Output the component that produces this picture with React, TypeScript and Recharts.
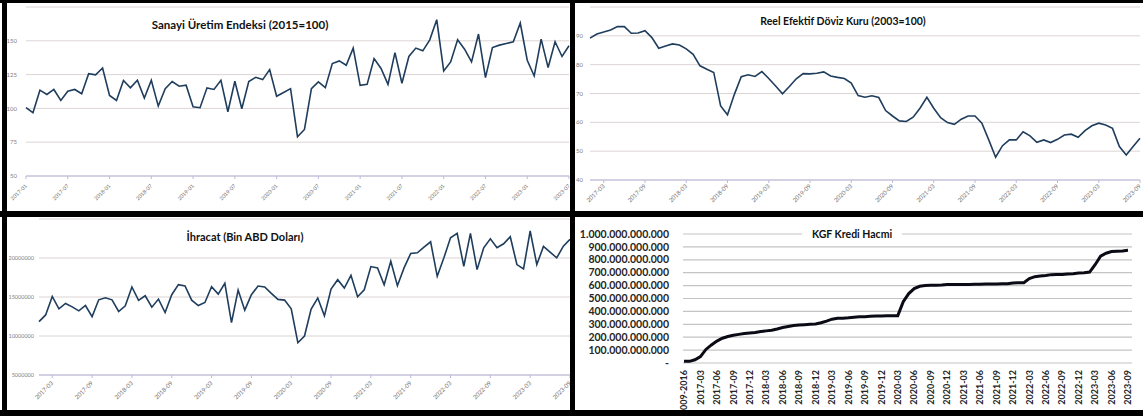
import React from "react"
import { LineChart, Line, XAxis, YAxis, CartesianGrid } from "recharts"

// aylar (2017-01 .. 2023-09)
const months = [
  "2017-01", "2017-02", "2017-03", "2017-04", "2017-05", "2017-06", "2017-07", "2017-08", "2017-09", "2017-10", "2017-11", "2017-12",
  "2018-01", "2018-02", "2018-03", "2018-04", "2018-05", "2018-06", "2018-07", "2018-08", "2018-09", "2018-10", "2018-11", "2018-12",
  "2019-01", "2019-02", "2019-03", "2019-04", "2019-05", "2019-06", "2019-07", "2019-08", "2019-09", "2019-10", "2019-11", "2019-12",
  "2020-01", "2020-02", "2020-03", "2020-04", "2020-05", "2020-06", "2020-07", "2020-08", "2020-09", "2020-10", "2020-11", "2020-12",
  "2021-01", "2021-02", "2021-03", "2021-04", "2021-05", "2021-06", "2021-07", "2021-08", "2021-09", "2021-10", "2021-11", "2021-12",
  "2022-01", "2022-02", "2022-03", "2022-04", "2022-05", "2022-06", "2022-07", "2022-08", "2022-09", "2022-10", "2022-11", "2022-12",
  "2023-01", "2023-02", "2023-03", "2023-04", "2023-05", "2023-06", "2023-07", "2023-08", "2023-09",
]

// Sanayi Üretim Endeksi (2015=100), 2017-01 .. 2023-07
const sanayiUretim = [
  100.5, 96.8, 113.5, 110.3, 114, 105.9, 112.7, 114, 110.8, 125.7,
  124.8, 129.9, 109.6, 105.9, 120.6, 115.2, 120.8, 107.6, 120.8, 101.7,
  114.5, 119.9, 116.4, 117.2, 101.2, 100.5, 115.2, 114, 120.8, 97.5,
  120.1, 99.7, 119.9, 123, 121.3, 128.7, 109, 111.8, 114.6, 79,
  84.4, 114.6, 119.6, 115.3, 133.2, 135.1, 131.9, 144.6, 117.1, 117.8,
  136.9, 129.5, 117.8, 141.3, 118.6, 138.4, 144.6, 142.6, 150.7, 165.6,
  127.7, 134.4, 150.7, 143.8, 134.4, 155, 122.8, 145, 146.8, 148,
  149.3, 163.1, 135.6, 124, 151.2, 130.2, 149.3, 138.4, 146.3,
]

// Reel Efektif Döviz Kuru (2003=100), 2017-01 .. 2023-09
const reelKur = [
  89.2, 90.6, 91.3, 92, 93.2, 93.2, 90.9, 91, 91.8, 89.4,
  85.7, 86.5, 87.2, 86.8, 85.5, 83.6, 79.6, 78.4, 77.3, 65.7,
  62.6, 69.7, 75.8, 76.5, 75.9, 77.6, 75.2, 72.6, 69.9, 72.4,
  75.1, 76.9, 76.8, 77, 77.5, 76.1, 75.6, 75.2, 73.6, 69.3,
  68.7, 69.2, 68.6, 64.1, 62.2, 60.5, 60.3, 61.8, 64.9, 68.7,
  64.9, 61.6, 59.9, 59.3, 61.1, 62.2, 62.2, 59.7, 53.9, 47.9,
  51.9, 53.9, 53.9, 56.7, 55.3, 53.1, 53.9, 53, 54.1, 55.6,
  55.9, 54.8, 57.1, 58.8, 59.7, 59.1, 57.9, 51.6, 48.7, 51.6, 54.5,
]

// İhracat (Bin ABD Doları), 2017-01 .. 2023-09
const ihracat = [
  11850000, 12700000, 15070000, 13480000, 14170000, 13740000, 13220000, 13910000, 12490000, 14640000,
  14900000, 14640000, 13140000, 13870000, 16280000, 14560000, 15160000, 13700000, 14730000, 13010000,
  15290000, 16580000, 16410000, 14600000, 13910000, 14300000, 16320000, 15370000, 16750000, 11720000,
  15890000, 13310000, 15290000, 16410000, 16280000, 15460000, 14690000, 14600000, 13480000, 9140000,
  10000000, 13440000, 14860000, 12580000, 16020000, 17220000, 16150000, 17780000, 15030000, 15930000,
  18900000, 18730000, 16580000, 19590000, 16450000, 18730000, 20580000, 20660000, 21390000, 22080000,
  17650000, 20020000, 22600000, 23160000, 18940000, 23160000, 18510000, 21310000, 22470000, 21310000,
  21820000, 22730000, 19160000, 18600000, 23460000, 19160000, 21480000, 20750000, 20020000, 21520000, 22400000,
]

// KGF Kredi Hacmi (milyar TL)
const kgfDonem = ["2009-2016", ...months]
const kgfHacim = [
  13, 13, 25, 50, 105, 140, 170, 192, 205, 215,
  222, 228, 232, 236, 244, 249, 254, 264, 275, 283,
  290, 294, 297, 300, 303, 312, 325, 340, 346, 347,
  350, 355, 358, 359, 362, 364, 365, 367, 367, 367,
  475, 538, 577, 595, 600, 603, 603, 605, 608, 608,
  608, 608, 609, 610, 610, 612, 613, 613, 614, 615,
  621, 623, 623, 654, 669, 674, 679, 685, 687, 687,
  690, 692, 697, 700, 705, 762, 828, 851, 864, 867, 869, 874,
]

const ipiTicks = [0, 6, 12, 18, 24, 30, 36, 42, 48, 54, 60, 66, 72, 78]
const halfYearTicks = [2, 8, 14, 20, 26, 32, 38, 44, 50, 56, 62, 68, 74, 80]
const quarterTicks = [0, 3, 6, 9, 12, 15, 18, 21, 24, 27, 30, 33, 36, 39, 42, 45, 48, 51, 54, 57, 60, 63, 66, 69, 72, 75, 78, 81]

const FONT = "Lato, 'Open Sans', Arial, sans-serif"
const LINE = "#1f3d5c"
const AXIS = "#bdb9dc"

const ipiData = sanayiUretim.map((v, i) => ({ i, v }))
const reerData = reelKur.map((v, i) => ({ i, v }))
const ihrData = ihracat.map((v, i) => ({ i, v }))
const kgfData = kgfHacim.map((v, i) => ({ i, v }))

function fmtTL(v: number) {
  if (v === 0) return "-"
  return String(v * 1e9).replace(/\B(?=(\d{3})+(?!\d))/g, ".")
}

const diagTick = (size: number, labels: string[]) => (props: any) => {
  const { x, y, payload } = props
  return (
    <text x={x} y={y} dy={size * 0.35} textAnchor="end" fontSize={size} fill="#6e6e6e"
      fontFamily={FONT} transform={`rotate(-45 ${x} ${y})`}>
      {labels[payload.value]}
    </text>
  )
}

const smallYTick = (size: number) => (props: any) => {
  const { x, y, payload } = props
  return (
    <text x={x} y={y} dy={size * 0.35} textAnchor="end" fontSize={size} fill="#808080" fontFamily={FONT}>
      {payload.value}
    </text>
  )
}

const kgfYTick = (props: any) => {
  const { x, y, payload } = props
  return (
    <text x={x} y={y} dy={3.6} textAnchor="end" fontSize={10.5} fontWeight="bold" fill="#262626" fontFamily={FONT}>
      {fmtTL(payload.value)}
    </text>
  )
}

const kgfXTick = (props: any) => {
  const { x, y, payload } = props
  return (
    <text x={x} y={y} dy={3.2} textAnchor="end" fontSize={9} fontWeight="bold" fill="#262626"
      fontFamily={FONT} transform={`rotate(-90 ${x} ${y})`}>
      {kgfDonem[payload.value]}
    </text>
  )
}

function Title({ text, x, y, size = 10.5, bg = false }: { text: string; x: number; y: number; size?: number; bg?: boolean }) {
  return (
    <div
      style={{
        position: "absolute", left: x, top: y, transform: "translate(-50%, -50%)",
        fontFamily: FONT, fontWeight: 700, fontSize: size, color: "#111", whiteSpace: "nowrap",
        background: bg ? "#fff" : "transparent", padding: bg ? "0 10px" : 0, lineHeight: "14px",
      }}
    >
      {text}
    </div>
  )
}

const bar = (left: number, top: number, width: number, height: number) => (
  <div style={{ position: "absolute", left, top, width, height, background: "#000" }} />
)

export default function App() {
  return (
    <div style={{ position: "fixed", left: 0, top: 0, width: 1143, height: 416, background: "#fff", overflow: "hidden" }}>
      {/* Sanayi Üretim Endeksi */}
      <div style={{ position: "absolute", left: 7, top: 3 }}>
        <LineChart width={563} height={208} data={ipiData} margin={{ top: 4, right: 1, left: 0, bottom: 0 }}>
          <CartesianGrid vertical={false} stroke="#ddd4d4" />
          <XAxis dataKey="i" type="number" domain={[0, 78]} ticks={ipiTicks} interval={0} height={35}
            tickSize={3} tickMargin={6} axisLine={{ stroke: AXIS }} tickLine={{ stroke: AXIS }} tick={diagTick(5.3, months)} />
          <YAxis domain={[50, 175]} ticks={[50, 75, 100, 125, 150]} interval={0} width={19}
            axisLine={false} tickLine={false} tickSize={0} tickMargin={9} tick={smallYTick(6)} />
          <Line dataKey="v" stroke={LINE} strokeWidth={1.6} dot={false} isAnimationActive={false} />
        </LineChart>
      </div>
      <Title text="Sanayi Üretim Endeksi (2015=100)" x={240} y={25} size={11.5} />

      {/* Reel Efektif Döviz Kuru */}
      <div style={{ position: "absolute", left: 575, top: 3 }}>
        <LineChart width={568} height={208} data={reerData} margin={{ top: 4, right: 3, left: 0, bottom: 0 }}>
          <CartesianGrid vertical={false} stroke="#ddd4d4" />
          <XAxis dataKey="i" type="number" domain={[0, 80]} ticks={halfYearTicks} interval={0} height={31}
            tickSize={3} tickMargin={2} axisLine={{ stroke: AXIS }} tickLine={{ stroke: AXIS }} tick={diagTick(6, months)} />
          <YAxis domain={[40, 100]} ticks={[40, 50, 60, 70, 80, 90]} interval={0} width={15}
            axisLine={false} tickLine={false} tickSize={0} tickMargin={7} tick={smallYTick(6)} />
          <Line dataKey="v" stroke={LINE} strokeWidth={1.6} dot={false} isAnimationActive={false} />
        </LineChart>
      </div>
      <Title text="Reel Efektif Döviz Kuru (2003=100)" x={843} y={21} size={10.5} />

      {/* İhracat */}
      <div style={{ position: "absolute", left: 7, top: 217 }}>
        <LineChart width={563} height={193} data={ihrData} margin={{ top: 2, right: 0, left: 0, bottom: 0 }}>
          <CartesianGrid vertical={false} stroke="#ddd4d4" />
          <XAxis dataKey="i" type="number" domain={[0, 80]} ticks={halfYearTicks} interval={0} height={35}
            tickSize={3} tickMargin={4} axisLine={{ stroke: AXIS }} tickLine={{ stroke: AXIS }} tick={diagTick(6, months)} />
          <YAxis domain={[5000000, 25000000]} ticks={[5000000, 10000000, 15000000, 20000000]} interval={0} width={32}
            axisLine={false} tickLine={false} tickSize={0} tickMargin={5} tick={smallYTick(5.5)} />
          <Line dataKey="v" stroke={LINE} strokeWidth={1.6} dot={false} isAnimationActive={false} />
        </LineChart>
      </div>
      <Title text="İhracat (Bin ABD Doları)" x={245} y={237} size={11} />

      {/* KGF Kredi Hacmi */}
      <div style={{ position: "absolute", left: 575, top: 217 }}>
        <LineChart width={568} height={193} data={kgfData} margin={{ top: 17, right: 11, left: 0, bottom: 0 }}>
          <CartesianGrid vertical={false} stroke="#c4c4c4" strokeWidth={1.2} />
          <XAxis dataKey="i" type="number" domain={[0, 81]} ticks={quarterTicks} interval={0} height={47}
            padding={{ left: 1, right: 4 }} tickSize={0} tickMargin={7} axisLine={false} tickLine={false} tick={kgfXTick} />
          <YAxis domain={[0, 1000]} ticks={[0, 100, 200, 300, 400, 500, 600, 700, 800, 900, 1000]} interval={0} width={108}
            axisLine={false} tickLine={false} tickSize={0} tickMargin={14} tick={kgfYTick} />
          <Line dataKey="v" stroke="#0b0b16" strokeWidth={3} dot={false} isAnimationActive={false} />
        </LineChart>
      </div>
      <Title text="KGF Kredi Hacmi" x={852} y={234} bg />

      {/* çerçeve */}
      {bar(0, 0, 1143, 3)}
      {bar(2, 0, 5, 416)}
      {bar(570, 0, 5, 416)}
      {bar(0, 211, 1143, 6)}
      {bar(0, 410, 1143, 6)}
    </div>
  )
}
